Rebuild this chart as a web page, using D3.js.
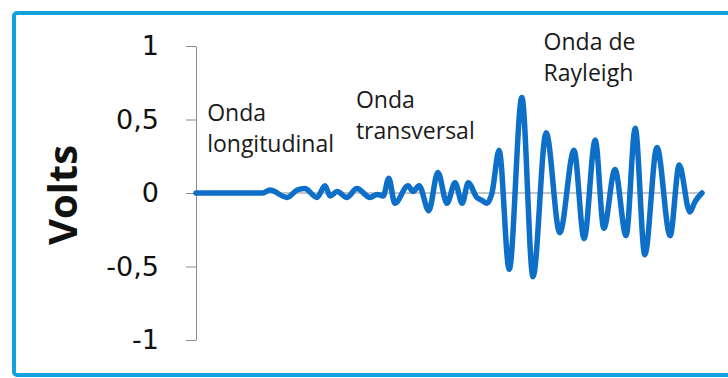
<!DOCTYPE html>
<html>
<head>
<meta charset="utf-8">
<script src="https://cdn.jsdelivr.net/npm/d3@7"></script>
<style>
  body { margin: 0; background: #fff; }
  svg { display: block; }
</style>
</head>
<body>
<svg width="728" height="378"></svg>
<script>
// time (arbitrary units) and voltage
var times = [0, 13.2, 14.6, 18.0, 20.0, 21.5, 23.9, 25.5, 26.5, 27.9, 29.8, 31.8, 34.4, 35.8, 37.0,
  38.1, 39.3, 41.9, 42.9, 44.1, 46.0, 47.8, 49.6, 51.2, 52.6, 53.8, 55.5, 56.5, 57.5, 58.5,
  59.9, 61.9, 64.4, 66.6, 69.2, 71.9, 74.7, 76.7, 78.9, 80.6, 82.8, 85.0, 86.8, 88.7, 91.1,
  93.7, 95.5, 97.6, 98.6, 100]
var volts = [0, 0, 0.02, -0.03, 0.02, 0.03, -0.03, 0.05, -0.02, 0.01, -0.03, 0.03, -0.03, -0.01, -0.02,
  0.10, -0.07, 0.05, 0.01, 0.05, -0.12, 0.14, -0.07, 0.07, -0.07, 0.07, -0.03, -0.05, -0.07, 0,
  0.29, -0.52, 0.65, -0.57, 0.41, -0.27, 0.29, -0.31, 0.36, -0.24, 0.16, -0.29, 0.44, -0.42, 0.31,
  -0.29, 0.19, -0.13, -0.06, 0]
var yTicks = [-1, -0.5, 0, 0.5, 1]
var labels = [
  {t: 2.2, v: 0.49, lines: ['Onda', 'longitudinal']},
  {t: 31.6, v: 0.58, lines: ['Onda', 'transversal']},
  {t: 68.7, v: 0.97, lines: ['Onda de', 'Rayleigh']}
]

var svg = d3.select('svg')

// frame
svg.append('rect')
  .attr('x', 14).attr('y', 13)
  .attr('width', 730).attr('height', 362)
  .attr('rx', 3)
  .attr('fill', 'none')
  .attr('stroke', '#12a2de')
  .attr('stroke-width', 4)

var mapX = d3.scaleLinear().domain([0, 100]).range([196, 702])
var mapY = d3.scaleLinear().domain([-1, 1]).range([340, 46])

var axisY = d3.axisLeft(mapY)
  .tickValues(yTicks)
  .tickSize(10)
  .tickSizeOuter(0)
  .tickPadding(27)
  .tickFormat(function(d){ return String(d).replace('.', ',') })

var gy = svg.append('g')
  .attr('transform', 'translate(196, 0)')
  .call(axisY)
gy.select('.domain').attr('stroke', '#8c8c8c')
gy.selectAll('.tick line').attr('stroke', '#8c8c8c')
gy.selectAll('.tick text')
  .attr('fill', '#111')
  .style('font-family', 'DejaVu Sans')
  .style('font-size', '27px')

// zero line
svg.append('line')
  .attr('x1', mapX(0)).attr('x2', mapX(100))
  .attr('y1', mapY(0)).attr('y2', mapY(0))
  .attr('stroke', '#8c8c8c')

svg.append('text')
  .attr('transform', 'translate(77, 195) rotate(-90)')
  .attr('text-anchor', 'middle')
  .style('font-family', 'Open Sans')
  .style('font-weight', 'bold')
  .style('font-size', '40px')
  .attr('fill', '#111')
  .text('Volts')

var line = d3.line()
  .x(function(d, i){ return mapX(times[i]) })
  .y(function(d){ return mapY(d) })
  .curve(d3.curveMonotoneX)

svg.append('path')
  .datum(volts)
  .attr('d', line)
  .attr('fill', 'none')
  .attr('stroke', '#0e6fc8')
  .attr('stroke-width', 5.5)
  .attr('stroke-linejoin', 'round')
  .attr('stroke-linecap', 'round')

var notes = svg.selectAll('.note')
  .data(labels)
  .enter()
  .append('text')
  .attr('class', 'note')
  .attr('transform', function(d){ return `translate(${mapX(d.t)}, ${mapY(d.v)})` })
  .style('font-family', 'Open Sans')
  .style('font-size', '23px')
  .attr('fill', '#1a1a1a')

notes.selectAll('tspan')
  .data(function(d){ return d.lines })
  .enter()
  .append('tspan')
  .attr('x', 0)
  .attr('y', function(d, i){ return i * 31 })
  .text(function(d){ return d })
</script>
</body>
</html>
